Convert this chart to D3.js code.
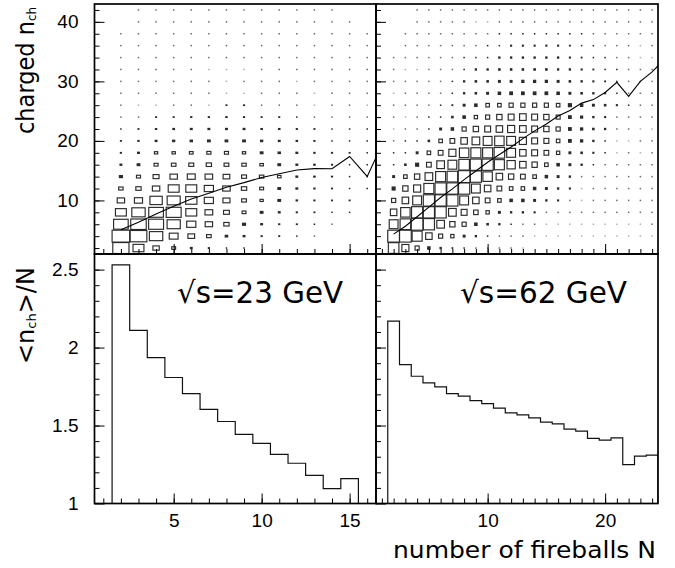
<!DOCTYPE html>
<html>
<head>
<meta charset="utf-8">
<script src="https://cdn.jsdelivr.net/npm/d3@7"></script>
<style>
  html, body { margin: 0; padding: 0; background: #fff; }
  svg { display: block; }
</style>
</head>
<body>
<svg id="chart" width="675" height="568"></svg>
<script>
// Charged multiplicity versus number of fireballs, pp at sqrt(s) = 23 and 62 GeV.
// Top row: box plot of n_ch against N with the mean n_ch overlaid.
// Bottom row: mean charged multiplicity per fireball, <n_ch>/N.

// ---- categories -------------------------------------------------------
const chargedBins = [2, 4, 6, 8, 10, 12, 14, 16, 18, 20, 22, 24, 26, 28, 30, 32, 34, 36, 38, 40, 42];
const fireballs23 = [2, 3, 4, 5, 6, 7, 8, 9, 10, 11, 12, 13, 14, 15, 16];
const fireballs62 = [2, 3, 4, 5, 6, 7, 8, 9, 10, 11, 12, 13, 14, 15, 16, 17, 18, 19, 20, 21, 22, 23, 24];

// ---- relative event counts per (N, n_ch) cell, rows follow chargedBins ----
const cells23 = [
  [92, 62, 36, 22, 10, 6, 4, 4, 0, 0, 0, 0, 0, 0, 0],
  [100, 95, 76, 50, 38, 26, 14, 10, 6, 5, 4, 3, 0, 0, 0],
  [83, 88, 85, 75, 52, 42, 30, 17, 10, 6, 5, 4, 3, 0, 0],
  [62, 76, 83, 85, 62, 44, 33, 22, 15, 10, 6, 5, 4, 4, 0],
  [42, 46, 70, 74, 64, 52, 40, 27, 18, 15, 8, 6, 5, 5, 0],
  [25, 30, 42, 62, 62, 52, 43, 30, 22, 15, 10, 7, 5, 4, 4],
  [17, 23, 34, 42, 45, 43, 38, 28, 25, 20, 10, 8, 6, 4, 4],
  [10, 15, 23, 26, 28, 30, 27, 25, 20, 15, 10, 8, 6, 4, 4],
  [6, 10, 19, 19, 21, 23, 23, 19, 15, 13, 10, 7, 6, 5, 4],
  [5, 7, 10, 12, 13, 15, 15, 15, 12, 10, 8, 6, 4, 4, 4],
  [4, 5, 7, 9, 10, 10, 10, 10, 8, 8, 6, 5, 4, 4, 4],
  [3, 3, 5, 5, 6, 6, 7, 6, 5, 5, 4, 3, 3, 3, 3],
  [3, 2, 2, 3, 3, 2, 5, 5, 3, 3, 3, 2, 3, 3, 2],
  [3, 3, 3, 3, 3, 3, 2, 2, 3, 3, 3, 2, 3, 3, 3],
  [3, 3, 3, 3, 3, 3, 2, 3, 3, 3, 2, 3, 3, 3, 3],
  [3, 3, 3, 3, 3, 2, 2, 2, 3, 3, 3, 3, 3, 3, 3],
  [3, 3, 3, 3, 3, 3, 3, 3, 3, 3, 3, 3, 3, 3, 3],
  [3, 3, 3, 3, 3, 3, 3, 3, 3, 3, 3, 3, 3, 3, 3],
  [3, 3, 3, 3, 3, 3, 3, 3, 3, 3, 3, 3, 3, 3, 3],
  [0, 3, 3, 3, 3, 3, 3, 3, 3, 3, 3, 3, 3, 3, 0],
  [0, 3, 3, 3, 3, 3, 3, 3, 3, 3, 3, 3, 3, 0, 0]
];
const cells62 = [
  [90, 60, 35, 20, 10, 5, 4, 3, 3, 3, 3, 2, 0, 0, 0, 0, 0, 0, 0, 0, 0, 0, 0],
  [100, 100, 85, 55, 35, 28, 15, 10, 4, 3, 3, 3, 2, 2, 2, 2, 2, 2, 2, 2, 2, 2, 2],
  [75, 90, 100, 95, 65, 45, 35, 20, 12, 10, 4, 3, 3, 2, 2, 2, 2, 2, 2, 2, 2, 2, 3],
  [55, 80, 95, 95, 95, 65, 50, 38, 28, 15, 10, 10, 8, 3, 3, 3, 3, 3, 3, 3, 3, 3, 3],
  [35, 55, 75, 95, 95, 95, 75, 55, 40, 30, 20, 20, 15, 10, 8, 3, 2, 3, 3, 3, 3, 3, 3],
  [25, 45, 60, 85, 95, 95, 95, 75, 55, 40, 30, 30, 20, 15, 10, 8, 2, 3, 3, 3, 3, 3, 3],
  [15, 30, 45, 65, 85, 90, 100, 95, 80, 55, 45, 40, 30, 20, 15, 10, 3, 3, 3, 3, 3, 3, 3],
  [4, 12, 25, 40, 65, 75, 90, 95, 95, 85, 70, 55, 45, 30, 20, 15, 10, 4, 3, 3, 3, 3, 3],
  [4, 4, 15, 30, 40, 60, 80, 85, 85, 90, 75, 55, 50, 40, 28, 15, 12, 8, 4, 2, 3, 2, 3],
  [3, 4, 4, 12, 30, 40, 55, 65, 75, 80, 75, 60, 50, 42, 30, 22, 18, 10, 4, 2, 2, 3, 3],
  [2, 3, 3, 4, 15, 20, 35, 45, 50, 55, 60, 56, 50, 45, 35, 22, 18, 12, 10, 3, 3, 2, 2],
  [3, 2, 3, 4, 4, 12, 20, 28, 35, 45, 50, 56, 50, 45, 34, 22, 17, 10, 8, 3, 3, 3, 3],
  [3, 3, 3, 3, 4, 6, 15, 20, 30, 30, 35, 35, 35, 35, 30, 25, 20, 15, 12, 8, 4, 3, 3],
  [2, 3, 3, 3, 3, 4, 10, 12, 15, 20, 22, 22, 22, 22, 20, 15, 12, 10, 8, 4, 3, 3, 3],
  [3, 3, 3, 3, 3, 4, 10, 12, 12, 15, 15, 18, 18, 18, 15, 12, 10, 8, 6, 4, 3, 3, 3],
  [3, 2, 2, 3, 3, 3, 4, 10, 10, 12, 12, 12, 12, 12, 10, 10, 8, 6, 4, 4, 3, 3, 3],
  [3, 3, 3, 3, 3, 3, 4, 4, 4, 10, 10, 10, 10, 10, 10, 8, 6, 4, 4, 3, 3, 2, 2],
  [0, 3, 3, 3, 3, 3, 3, 3, 4, 4, 8, 8, 8, 8, 8, 6, 4, 4, 3, 3, 3, 2, 3],
  [0, 3, 3, 3, 3, 3, 3, 3, 3, 4, 4, 4, 4, 4, 4, 4, 4, 3, 3, 3, 3, 3, 3],
  [0, 0, 3, 3, 3, 3, 3, 2, 2, 3, 3, 3, 3, 3, 3, 3, 3, 3, 3, 3, 3, 3, 3],
  [0, 0, 3, 3, 3, 3, 3, 3, 3, 3, 3, 3, 3, 3, 3, 3, 3, 3, 3, 3, 3, 3, 3]
];

// ---- mean charged multiplicity <n_ch> versus N (top-row curves) ----
const meanN23 = [2, 3, 4, 5, 6, 7, 8, 9, 10, 11, 12, 13, 14, 15, 16, 17];
const meanNch23 = [5.06, 6.33, 7.74, 9.04, 10.23, 11.22, 12.21, 12.99, 13.86, 14.47, 15.10, 15.34, 15.33, 17.39, 14.04, 20.4];
const meanN62 = [2, 3, 4, 5, 6, 7, 8, 9, 10, 11, 12, 13, 14, 15, 16, 17, 18, 19, 20, 21, 22, 23, 24, 25];
const meanNch62 = [4.34, 5.67, 7.26, 8.87, 10.49, 11.94, 13.50, 14.94, 16.41, 17.72, 18.97, 20.38, 21.69, 22.83,
                   24.18, 25.11, 26.35, 26.94, 28.14, 29.84, 27.48, 29.99, 31.6, 33.6];

// ---- <n_ch>/N per fireball bin (bottom-row histograms) ----
const ratio23 = [2.53, 2.11, 1.935, 1.808, 1.705, 1.603, 1.526, 1.443, 1.386, 1.315, 1.258, 1.18, 1.095, 1.159, 0.878];
const ratio62 = [2.17, 1.891, 1.816, 1.773, 1.748, 1.705, 1.688, 1.66, 1.641, 1.611, 1.581, 1.568, 1.549, 1.522,
                 1.511, 1.477, 1.464, 1.418, 1.407, 1.421, 1.249, 1.304, 1.31];

// ---- tick labels ----
const yTicksTop = [10, 20, 30, 40];
const yTicksBottom = [1, 1.5, 2, 2.5];
const xTicks23 = [5, 10, 15];
const xTicks62 = [10, 20];
const energyLabels = ["\u221As=23 GeV", "\u221As=62 GeV"];

// ---- layout ----
const svg = d3.select("#chart");
const tickFont = "'Liberation Sans', Arial, sans-serif";
const titleFont = "'DejaVu Sans', sans-serif";

const xLeft = d3.scaleLinear().domain([0.5, 16.5]).range([94.5, 376]);
const xRight = d3.scaleLinear().domain([0.5, 24.5]).range([376, 658]);
const yTop = d3.scaleLinear().domain([1, 43]).range([254, 4]);
const yBot = d3.scaleLinear().domain([1, 2.6]).range([503.5, 254]);
const boxScale = d3.scaleLinear().domain([0, 100]).range([0, 1]);
const dotShade = d3.scaleLinear().domain([2, 4]).range(["#b0b0b0", "#262626"]).clamp(true);

const defs = svg.append("defs");
let clipId = 0;
function clipFor(x, y) {
  const id = "clip" + (clipId++);
  const [x0, x1] = x.range(), [y1, y0] = y.range();
  defs.append("clipPath").attr("id", id)
    .append("rect").attr("x", x0).attr("y", y0).attr("width", x1 - x0).attr("height", y1 - y0);
  return "url(#" + id + ")";
}

function minorValues(from, to, step) {
  const out = [];
  for (let v = from; v <= to + 1e-9; v += step) out.push(+v.toFixed(3));
  return out;
}

function drawBoxes(x, y, fireballs, cells) {
  const g = svg.append("g").attr("clip-path", clipFor(x, y));
  const bw = x(1.5) - x(0.5);
  const bh = y(1) - y(3);
  cells.forEach((row, i) => {
    const n = chargedBins[i];
    row.forEach((v, j) => {
      if (!v) return;
      const cx = x(fireballs[j]), cy = y(n);
      if (v <= 4) {
        g.append("rect").attr("x", cx - 0.75).attr("y", cy - 0.75)
          .attr("width", 1.5).attr("height", 1.5).attr("fill", dotShade(v));
      } else {
        const w = boxScale(v) * bw, h = boxScale(v) * bh;
        g.append("rect").attr("x", cx - w / 2).attr("y", cy - h / 2)
          .attr("width", w).attr("height", h)
          .attr("fill", w < 3 ? "#2a2a2a" : "none")
          .attr("stroke", "#2a2a2a").attr("stroke-width", 1.15);
      }
    });
  });
}

function drawMeanLine(x, y, ns, means) {
  const line = d3.line().x((d, i) => x(ns[i])).y(d => y(d));
  svg.append("path").attr("clip-path", clipFor(x, y))
    .attr("d", line(means)).attr("fill", "none")
    .attr("stroke", "#000").attr("stroke-width", 1.1);
}

function drawHist(x, y, fireballs, ratios) {
  const base = y.domain()[0];
  const pts = [[fireballs[0] - 0.5, base]];
  ratios.forEach((r, i) => {
    pts.push([fireballs[i] - 0.5, r]);
    pts.push([fireballs[i] + 0.5, r]);
  });
  pts.push([fireballs[ratios.length - 1] + 0.5, base]);
  const line = d3.line().x(d => x(d[0])).y(d => y(Math.max(d[1], base)));
  svg.append("path").attr("clip-path", clipFor(x, y))
    .attr("d", line(pts)).attr("fill", "none")
    .attr("stroke", "#111").attr("stroke-width", 1.2);
}

function styleAxis(g) {
  g.select(".domain").remove();
  g.selectAll(".tick line").attr("stroke", "#000").attr("stroke-width", 1);
  g.selectAll(".tick text").attr("font-family", tickFont).attr("font-size", 19).attr("fill", "#000");
}

function drawXAxis(x, yPos, majors, minors, withLabels) {
  const major = d3.axisBottom(x).tickValues(majors).tickSizeInner(-10).tickSizeOuter(0)
    .tickPadding(10).tickFormat(withLabels ? d3.format("d") : "");
  const minor = d3.axisBottom(x).tickValues(minors).tickSizeInner(-5).tickSizeOuter(0).tickFormat("");
  svg.append("g").attr("transform", `translate(0,${yPos})`).call(minor).call(styleAxis);
  svg.append("g").attr("transform", `translate(0,${yPos})`).call(major).call(styleAxis);
}

function drawYAxis(y, xPos, majors, minors, fmt) {
  const major = d3.axisLeft(y).tickValues(majors).tickSizeInner(-10).tickSizeOuter(0)
    .tickPadding(16).tickFormat(fmt || "");
  const minor = d3.axisLeft(y).tickValues(minors).tickSizeInner(-5).tickSizeOuter(0).tickFormat("");
  svg.append("g").attr("transform", `translate(${xPos},0)`).call(minor).call(styleAxis);
  svg.append("g").attr("transform", `translate(${xPos},0)`).call(major).call(styleAxis);
}

// ---- top row: n_ch versus N ----
drawBoxes(xLeft, yTop, fireballs23, cells23);
drawBoxes(xRight, yTop, fireballs62, cells62);
drawMeanLine(xLeft, yTop, meanN23, meanNch23);
drawMeanLine(xRight, yTop, meanN62, meanNch62);

// ---- bottom row: <n_ch>/N ----
drawHist(xLeft, yBot, fireballs23, ratio23);
drawHist(xRight, yBot, fireballs62, ratio62);

// ---- axes ----
const evenTicks = minorValues(2, 42, 2);
drawYAxis(yTop, xLeft.range()[0], yTicksTop, evenTicks, d3.format("d"));
drawYAxis(yTop, xRight.range()[0], yTicksTop, evenTicks, null);
const tenthTicks = minorValues(1.1, 2.6, 0.1);
const fmtBottom = d => (d % 1 === 0 ? d3.format("d")(d) : d3.format(".1f")(d));
drawYAxis(yBot, xLeft.range()[0], yTicksBottom, tenthTicks, fmtBottom);
drawYAxis(yBot, xRight.range()[0], yTicksBottom, tenthTicks, null);

drawXAxis(xLeft, yTop.range()[0], xTicks23, minorValues(1, 16, 1), false);
drawXAxis(xRight, yTop.range()[0], xTicks62, minorValues(1, 24, 1), false);
drawXAxis(xLeft, yBot.range()[0], xTicks23, minorValues(1, 16, 1), true);
drawXAxis(xRight, yBot.range()[0], xTicks62, minorValues(1, 24, 1), true);

// ---- frames ----
[[xLeft, yTop], [xRight, yTop], [xLeft, yBot], [xRight, yBot]].forEach(([x, y]) => {
  const [x0, x1] = x.range(), [y1, y0] = y.range();
  svg.append("rect").attr("x", x0).attr("y", y0).attr("width", x1 - x0).attr("height", y1 - y0)
    .attr("fill", "none").attr("stroke", "#000").attr("stroke-width", 1.7);
});

// ---- energy labels ----
svg.append("text").attr("x", 177).attr("y", 303)
  .attr("font-family", titleFont).attr("font-size", 30).attr("fill", "#000")
  .attr("textLength", 166).attr("lengthAdjust", "spacingAndGlyphs")
  .text(energyLabels[0]);
svg.append("text").attr("x", 460).attr("y", 303)
  .attr("font-family", titleFont).attr("font-size", 30).attr("fill", "#000")
  .attr("textLength", 167).attr("lengthAdjust", "spacingAndGlyphs")
  .text(energyLabels[1]);

// ---- axis titles ----
svg.append("text").attr("x", 393).attr("y", 558)
  .attr("font-family", titleFont).attr("font-size", 23).attr("fill", "#000")
  .attr("textLength", 263).attr("lengthAdjust", "spacingAndGlyphs")
  .text("number of fireballs N");

const yTitleTop = svg.append("text")
  .attr("transform", "translate(34,134) rotate(-90)")
  .attr("font-family", titleFont).attr("font-size", 25).attr("fill", "#000");
yTitleTop.append("tspan").attr("textLength", 113).attr("lengthAdjust", "spacingAndGlyphs").text("charged n");
yTitleTop.append("tspan").attr("font-size", 12).attr("dy", 2).text("ch");

const yTitleBot = svg.append("text")
  .attr("transform", "translate(34,364) rotate(-90)")
  .attr("font-family", titleFont).attr("font-size", 24).attr("fill", "#000");
yTitleBot.append("tspan").text("<n");
yTitleBot.append("tspan").attr("font-size", 13).attr("dy", 2).text("ch");
yTitleBot.append("tspan").attr("dy", -2).text(">/N");
</script>
</body>
</html>
